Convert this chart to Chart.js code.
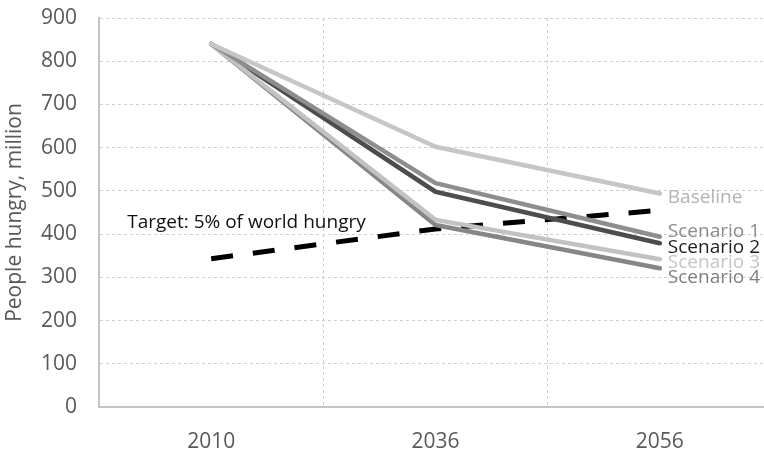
<!DOCTYPE html>
<html>
<head>
<meta charset="utf-8">
<script src="https://cdn.jsdelivr.net/npm/chart.js@4.4.1/dist/chart.umd.min.js"></script>
<style>
  html, body { margin: 0; padding: 0; background: #fff; overflow: hidden; }
  #wrap { position: absolute; left: 0; top: 0; width: 772px; height: 449px; }
</style>
</head>
<body>
<div id="wrap"><canvas id="chart"></canvas></div>
<script>
const years = ["2010", "2036", "2056"];

const baseline  = [840, 602, 494];
const scenario1 = [840, 518, 394];
const scenario2 = [840, 498, 379];
const scenario3 = [840, 433, 342];
const scenario4 = [840, 421, 321];
const target    = [343, 412, 455];

const FONT = "'Open Sans', sans-serif";

// end-of-line labels, nudged so they don't collide
const _endLabels = {
    id: "endLabels",
    afterDatasetsDraw(chart) {
        const ctx = chart.ctx;
        ctx.save();
        ctx.font = `19px ${FONT}`;
        ctx.textAlign = "left";
        ctx.textBaseline = "middle";
        chart.data.datasets.forEach((ds, i) => {
            if (!ds.endLabel) return;
            const pts = chart.getDatasetMeta(i).data;
            const p = pts[pts.length - 1];
            ctx.fillStyle = ds.labelColor;
            ctx.fillText(ds.label, p.x + 8, p.y + ds.labelShift);
        });

        // note for the target line
        const x = chart.scales.x.getPixelForValue(0) - 84;
        const y = chart.scales.y.getPixelForValue(427);
        ctx.fillStyle = "#111";
        ctx.fillText("Target: 5% of world hungry", x, y);
        ctx.restore();
    }
};

function line(label, data, color, labelColor, labelShift) {
    return {
        label, data,
        borderColor: color,
        borderWidth: 4.5,
        borderCapStyle: "round",
        borderJoinStyle: "round",
        pointRadius: 0,
        tension: 0,
        fill: false,
        endLabel: true,
        labelColor, labelShift
    };
}

new Chart(document.getElementById("chart").getContext("2d"), {
    type: "line",
    data: {
        labels: years,
        datasets: [
            line("Baseline",   baseline,  "#c6c6c6", "#b3b3b3", 4),
            line("Scenario 1", scenario1, "#8e8e8e", "#8c8c8c", -5),
            line("Scenario 3", scenario3, "#c2c2c2", "#c6c6c6", 3),
            line("Scenario 4", scenario4, "#868686", "#808080", 9),
            line("Scenario 2", scenario2, "#4d4d4d", "#1f1f1f", 4),
            {
                label: "Target",
                data: target,
                borderColor: "#000",
                borderWidth: 5,
                borderDash: [22, 20],
                pointRadius: 0,
                tension: 0,
                fill: false
            }
        ]
    },
    options: {
        responsive: true,
        maintainAspectRatio: false,
        animation: false,
        layout: { padding: { top: 18, left: 0, right: 0, bottom: 0 } },
        plugins: { legend: { display: false }, tooltip: { enabled: false } },
        scales: {
            x: {
                offset: true,
                afterFit: s => { s.height = 42; s.paddingLeft = 0; s.paddingRight = 0; },
                grid: { offset: true, color: "#cfcfcf", lineWidth: 1, drawTicks: false },
                border: { color: "#c4c4c4", width: 2, dash: [3, 3] },
                ticks: { color: "#595959", font: { family: FONT, size: 21 }, padding: 22 }
            },
            y: {
                min: 0, max: 900,
                afterFit: s => { s.width = 99; s.paddingTop = 0; s.paddingBottom = 0; },
                grid: { color: "#cfcfcf", lineWidth: 1, drawTicks: false },
                border: { color: "#c4c4c4", width: 2, dash: [3, 3] },
                ticks: { stepSize: 100, color: "#595959", font: { family: FONT, size: 21 }, padding: 22 },
                title: {
                    display: true,
                    text: "People hungry, million",
                    color: "#595959",
                    font: { family: FONT, size: 21 },
                    padding: { top: 2, bottom: 0 }
                }
            }
        }
    },
    plugins: [_endLabels]
});
</script>
</body>
</html>
